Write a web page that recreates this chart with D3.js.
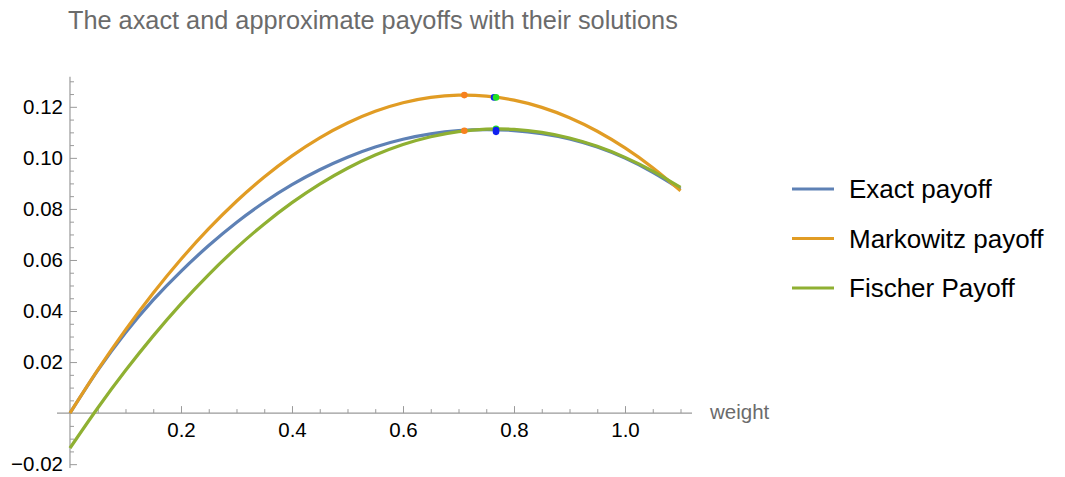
<!DOCTYPE html>
<html>
<head>
<meta charset="utf-8">
<script src="https://cdn.jsdelivr.net/npm/d3@7"></script>
<style>
  html, body { margin: 0; padding: 0; background: #fff; }
  svg { display: block; font-family: "Liberation Sans", Arial, sans-serif; }
</style>
</head>
<body>
<svg id="chart" width="1065" height="477"></svg>
<script>
// ---- data ----
const weights = [0, 0.05, 0.1, 0.15, 0.2, 0.25, 0.3, 0.35, 0.4, 0.45, 0.5, 0.55,
                 0.6, 0.65, 0.7, 0.75, 0.8, 0.85, 0.9, 0.95, 1.0, 1.05, 1.1];
const exactPayoff = [0, 0.01672, 0.03150, 0.04435, 0.05557, 0.06565, 0.07470, 0.08261,
                     0.08949, 0.09534, 0.10025, 0.10423, 0.10727, 0.10938, 0.11066,
                     0.11110, 0.11071, 0.10948, 0.10742, 0.10423, 0.09990, 0.09434, 0.08774];
const markowitzPayoff = [0, 0.01692, 0.03260, 0.04705, 0.06027, 0.07225, 0.08300, 0.09251,
                         0.10079, 0.10784, 0.11365, 0.11823, 0.12157, 0.12368, 0.12456,
                         0.12420, 0.12261, 0.11978, 0.11572, 0.11043, 0.10390, 0.09614, 0.08714];
const fischerPayoff = [-0.01370, 0.00201, 0.01666, 0.03026, 0.04281, 0.05430, 0.06474,
                       0.07412, 0.08245, 0.08973, 0.09595, 0.10112, 0.10523, 0.10829,
                       0.11030, 0.11125, 0.11115, 0.10999, 0.10778, 0.10452, 0.10020,
                       0.09483, 0.08840];
const seriesNames = ["Exact payoff", "Markowitz payoff", "Fischer Payoff"];
const seriesColors = ["#5E81B5", "#E19C24", "#8FB032"];

// solution points: [weight, payoff, colour]
const solutionPoints = [
  [0.7105, 0.1246, "#F7811E"],
  [0.7105, 0.1106, "#F7811E"],
  [0.7640, 0.1237, "#1020F0"],
  [0.7676, 0.1237, "#22E022"],
  [0.7676, 0.1114, "#22E022"],
  [0.7676, 0.1109, "#1020F0"],
  [0.7676, 0.1102, "#1020F0"]
];

const xMajorTicks = [0.2, 0.4, 0.6, 0.8, 1.0];
const xMinorTicks = [0.05, 0.1, 0.15, 0.25, 0.3, 0.35, 0.45, 0.5, 0.55, 0.65, 0.7, 0.75,
                     0.85, 0.9, 0.95, 1.05, 1.1];
const yMajorTicks = [-0.02, 0.02, 0.04, 0.06, 0.08, 0.10, 0.12];
const yMinorTicks = [-0.015, -0.01, -0.005, 0.005, 0.01, 0.015, 0.025, 0.03, 0.035,
                     0.045, 0.05, 0.055, 0.065, 0.07, 0.075, 0.085, 0.09, 0.095,
                     0.105, 0.11, 0.115, 0.125, 0.13];
const xDomain = [-0.0234, 1.1207];
const yDomain = [-0.0215, 0.1318];
const titleText = "The axact and approximate payoffs with their solutions";
const xAxisLabel = "weight";

// ---- drawing ----
const svg = d3.select("#chart");
const x = d3.scaleLinear().domain(xDomain).range([57, 692]);
const y = d3.scaleLinear().domain(yDomain).range([468, 76.7]);
const axisColor = "#9a9a9a";

// title
svg.append("text")
  .attr("x", 68).attr("y", 29)
  .attr("font-size", 25.3).attr("fill", "#6b6b6b")
  .text(titleText);

// x axis
const gx = svg.append("g").attr("transform", `translate(0,${y(0)})`);
gx.call(d3.axisBottom(x).tickValues(xMinorTicks).tickSizeInner(-4).tickSizeOuter(0).tickFormat(""));
gx.call(g => g.selectAll(".domain").remove());
const gxMaj = svg.append("g").attr("transform", `translate(0,${y(0)})`);
gxMaj.call(d3.axisBottom(x).tickValues(xMajorTicks).tickSizeInner(-7).tickSizeOuter(0)
  .tickPadding(9).tickFormat(d3.format(".1f")));
[gx, gxMaj].forEach(g => {
  g.selectAll("line").attr("stroke", axisColor);
});
gxMaj.selectAll("text").attr("font-size", 20.5).attr("fill", "#000")
  .attr("font-family", "'Liberation Sans', Arial, sans-serif");
gxMaj.select(".domain").remove();
svg.append("line")
  .attr("x1", x(xDomain[0])).attr("x2", x(xDomain[1]))
  .attr("y1", y(0)).attr("y2", y(0))
  .attr("stroke", axisColor).attr("stroke-width", 1.2);

// y axis
const gy = svg.append("g").attr("transform", `translate(${x(0)},0)`);
gy.call(d3.axisLeft(y).tickValues(yMinorTicks).tickSizeInner(-4).tickSizeOuter(0).tickFormat(""));
gy.select(".domain").remove();
const gyMaj = svg.append("g").attr("transform", `translate(${x(0)},0)`);
gyMaj.call(d3.axisLeft(y).tickValues(yMajorTicks).tickSizeInner(-7).tickSizeOuter(0)
  .tickPadding(7).tickFormat(d3.format(".2f")));
gyMaj.select(".domain").remove();
[gy, gyMaj].forEach(g => g.selectAll("line").attr("stroke", axisColor));
gyMaj.selectAll("text").attr("font-size", 20.5).attr("fill", "#000")
  .attr("font-family", "'Liberation Sans', Arial, sans-serif");
svg.append("line")
  .attr("x1", x(0)).attr("x2", x(0))
  .attr("y1", y(yDomain[0])).attr("y2", y(yDomain[1]))
  .attr("stroke", axisColor).attr("stroke-width", 1.2);

// axis label
svg.append("text")
  .attr("x", 710).attr("y", y(0) + 6)
  .attr("font-size", 20.5).attr("fill", "#6b6b6b")
  .text(xAxisLabel);

// curves
const allSeries = [exactPayoff, markowitzPayoff, fischerPayoff];
const line = d3.line()
  .x((d, i) => x(weights[i]))
  .y(d => y(d))
  .curve(d3.curveNatural);
allSeries.forEach((vals, k) => {
  svg.append("path")
    .datum(vals)
    .attr("d", line)
    .attr("fill", "none")
    .attr("stroke", seriesColors[k])
    .attr("stroke-width", 3.2)
    .attr("stroke-linejoin", "round");
});

// solution points
svg.selectAll("circle.sol")
  .data(solutionPoints)
  .enter().append("circle")
  .attr("class", "sol")
  .attr("cx", d => x(d[0]))
  .attr("cy", d => y(d[1]))
  .attr("r", 3.3)
  .attr("fill", d => d[2]);

// legend
const legend = svg.append("g");
seriesNames.forEach((name, k) => {
  const ly = 189 + k * 49.5;
  legend.append("line")
    .attr("x1", 792).attr("x2", 834)
    .attr("y1", ly).attr("y2", ly)
    .attr("stroke", seriesColors[k]).attr("stroke-width", 3.2);
  legend.append("text")
    .attr("x", 849).attr("y", ly)
    .attr("dy", "0.35em")
    .attr("font-size", 26).attr("fill", "#000")
    .text(name);
});
</script>
</body>
</html>
